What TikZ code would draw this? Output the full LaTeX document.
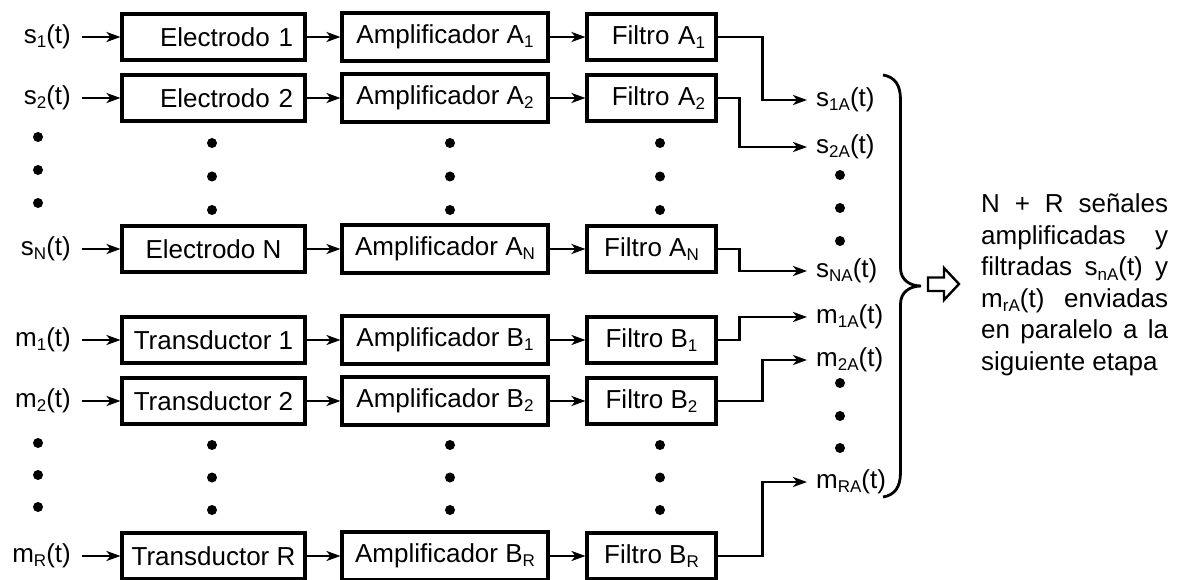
\documentclass[tikz,border=0pt]{standalone}
\usepackage{fontspec}
\setmainfont{Liberation Sans}
\usetikzlibrary{arrows.meta}
% lowered, smaller index as used in the signal names
\newcommand\sbs[1]{\raisebox{-0.16em}{\fontsize{17}{17}\selectfont #1}}

\begin{document}
\begin{tikzpicture}[x=1pt,y=-1pt,
  every node/.style={font=\fontsize{26}{31.5}\selectfont},
  blk/.style={draw, line width=3.1pt, minimum height=46pt, inner sep=0pt},
  eblk/.style={blk, minimum width=183pt},
  ablk/.style={blk, minimum width=206pt, minimum height=48pt},
  fblk/.style={blk, minimum width=129pt},
  inlbl/.style={inner sep=0pt, anchor=east},
  outlbl/.style={inner ysep=0pt, inner xsep=9pt, anchor=west},
  flow/.style={line width=2.5pt, -{Stealth[length=14pt,width=10pt,inset=4pt]}},
  shortin/.style={shorten <=11pt}
]
\useasboundingbox (0,0) rectangle (1189,580);

% ---- input signals ----
\node[inlbl] (in1) at (71,37)  {s\sbs{1}(t)};
\node[inlbl] (in2) at (71,98)  {s\sbs{2}(t)};
\node[inlbl] (inN) at (71,249) {s\sbs{N}(t)};
\node[inlbl] (im1) at (71,340) {m\sbs{1}(t)};
\node[inlbl] (im2) at (71,401) {m\sbs{2}(t)};
\node[inlbl] (imR) at (71,556) {m\sbs{R}(t)};

% ---- sensors ----
\node[eblk, text width=159pt, align=right, inner xsep=12pt] (e1) at (213.5,37) {Electrodo 1};
\node[eblk, text width=159pt, align=right, inner xsep=12pt] (e2) at (213.5,98) {Electrodo 2};
\node[eblk] (eN) at (213.5,249) {Electrodo N};
\node[eblk] (t1) at (213.5,340) {Transductor 1};
\node[eblk] (t2) at (213.5,401) {Transductor 2};
\node[eblk] (tR) at (213.5,556) {Transductor R};

% ---- amplifiers ----
\node[ablk] (a1) at (445,37)  {Amplificador A\sbs{1}};
\node[ablk] (a2) at (445,98)  {Amplificador A\sbs{2}};
\node[ablk] (aN) at (445,249) {Amplificador A\sbs{N}};
\node[ablk] (b1) at (445,340) {Amplificador B\sbs{1}};
\node[ablk] (b2) at (445,401) {Amplificador B\sbs{2}};
\node[ablk] (bR) at (445,556) {Amplificador B\sbs{R}};

% ---- filters ----
\node[fblk, text width=107pt, align=right, inner xsep=11pt] (f1) at (651.5,37) {Filtro A\sbs{1}};
\node[fblk, text width=107pt, align=right, inner xsep=11pt] (f2) at (651.5,98) {Filtro A\sbs{2}};
\node[fblk] (fN)  at (651.5,249) {Filtro A\sbs{N}};
\node[fblk] (fB1) at (651.5,340) {Filtro B\sbs{1}};
\node[fblk] (fB2) at (651.5,401) {Filtro B\sbs{2}};
\node[fblk] (fBR) at (651.5,556) {Filtro B\sbs{R}};

% ---- output signals ----
\node[outlbl] (o1)  at (807,100) {s\sbs{1A}(t)};
\node[outlbl] (o2)  at (807,147) {s\sbs{2A}(t)};
\node[outlbl] (oN)  at (807,271) {s\sbs{NA}(t)};
\node[outlbl] (om1) at (807,317) {m\sbs{1A}(t)};
\node[outlbl] (om2) at (807,360) {m\sbs{2A}(t)};
\node[outlbl] (omR) at (807,482) {m\sbs{RA}(t)};

% ---- chains ----
\foreach \i/\s/\a/\f in {in1/e1/a1/f1, in2/e2/a2/f2, inN/eN/aN/fN,
                          im1/t1/b1/fB1, im2/t2/b2/fB2, imR/tR/bR/fBR}{
  \draw[flow, shortin] (\i.east) -- (\s.west);
  \draw[flow] (\s.east) -- (\a.west);
  \draw[flow] (\a.east) -- (\f.west);
}

% ---- filter outputs routed to the output column ----
\draw[flow] (f1.east)  -- ++(45,0) |- (o1.west);
\draw[flow] (f2.east)  -- ++(22,0) |- (o2.west);
\draw[flow] (fN.east)  -- ++(22,0) |- (oN.west);
\draw[flow] (fB1.east) -- ++(22,0) |- (om1.west);
\draw[flow] (fB2.east) -- ++(45,0) |- (om2.west);
\draw[flow] (fBR.east) -- ++(45,0) |- (omR.west);

% ---- ellipsis dots ----
\foreach \y in {137,170,203,443,475,507} \fill (38,\y) circle (5);
\foreach \x in {212,450,660}
  \foreach \y in {143,176.5,210,445,477.5,510} \fill (\x,\y) circle (5);
\foreach \y in {175,208,241,383,416,448} \fill (840,\y) circle (5);

% ---- right brace ----
\draw[line width=2.8pt]
  (883,75) .. controls (895,77) and (900.5,85) .. (900.5,100)
  -- (900.5,268) .. controls (900.5,280) and (910,286) .. (921,286)
  .. controls (910,286) and (900.5,292) .. (900.5,304)
  -- (900.5,472) .. controls (900.5,487) and (895,495) .. (883,497);

% ---- hollow arrow ----
\draw[line width=2.4pt, line join=miter]
  (928,277.5) -- (944,277.5) -- (944,268) -- (959,284) -- (944,300)
  -- (944,291) -- (928,291) -- cycle;

% ---- summary text ----
\node[anchor=west, inner sep=0pt, align=left] (note) at (981,285)
  {\makebox[187pt][s]{N + R señales}\\
   \makebox[187pt][s]{amplificadas y}\\
   \makebox[187pt][s]{filtradas s\sbs{nA}(t) y}\\
   \makebox[187pt][s]{m\sbs{rA}(t) enviadas}\\
   \makebox[187pt][s]{en paralelo a la}\\
   siguiente etapa};
\end{tikzpicture}
\end{document}
